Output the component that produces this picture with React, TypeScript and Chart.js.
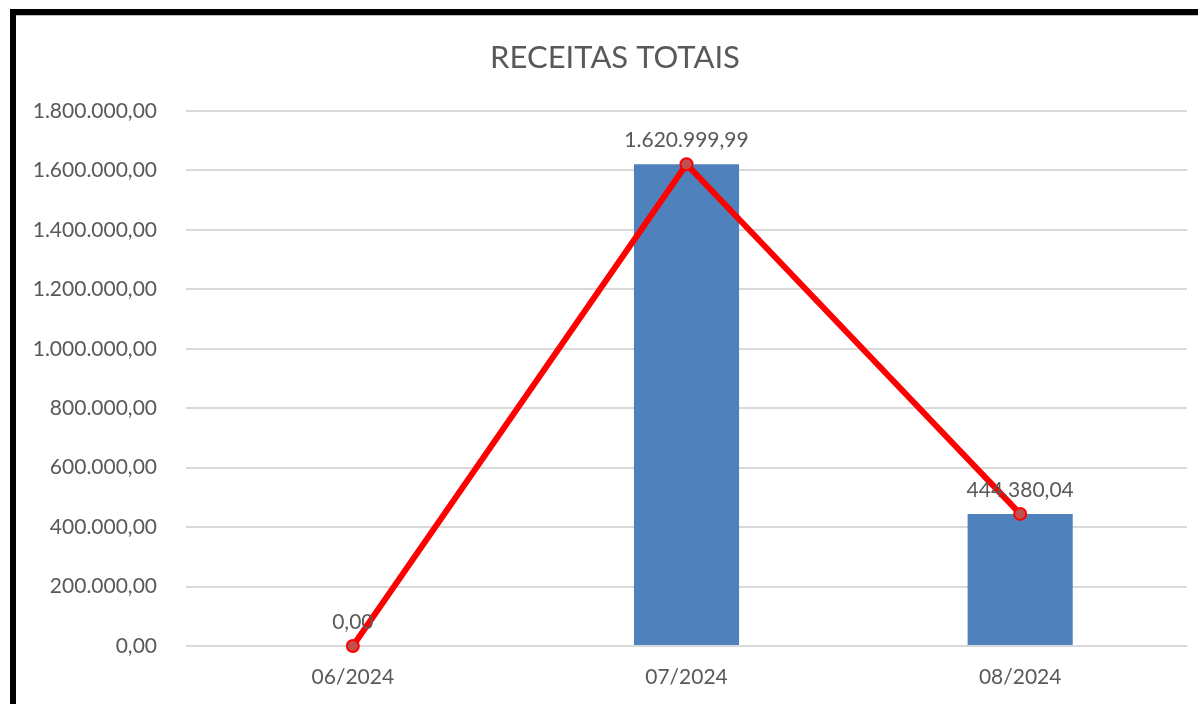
import React, { useEffect, useRef } from "react";
import { Chart, registerables } from "chart.js";

Chart.register(...registerables);

const titleText = "RECEITAS TOTAIS";
const categories = ["06/2024", "07/2024", "08/2024"];
const barValues = [0, 1620999.99, 444380.04];
const lineValues = [0, 1620999.99, 444380.04];
const yMin = 0;
const yMax = 1800000;
const yStep = 200000;

const FONT = "Lato";
const TEXT = "#595959";
const LABEL_SIZE = 21;
const TITLE_SIZE = 31;

function fmt(v: number): string {
  const fixed = Math.abs(v).toFixed(2);
  const [intPart, dec] = fixed.split(".");
  const intS = intPart.replace(/\B(?=(\d{3})+(?!\d))/g, ".");
  return (v < 0 ? "-" : "") + intS + "," + dec;
}

const dataLabelPlugin = {
  id: "dataLabels",
  afterDatasetsDraw(chart: any) {
    const ctx = chart.ctx;
    const meta = chart.getDatasetMeta(1);
    const ds = chart.data.datasets[1];
    ctx.save();
    ctx.font = `${LABEL_SIZE}px ${FONT}`;
    ctx.fillStyle = TEXT;
    ctx.textAlign = "center";
    ctx.textBaseline = "alphabetic";
    meta.data.forEach((pt: any, i: number) => {
      ctx.fillText(fmt(ds.data[i] as number), pt.x, pt.y - 17);
    });
    ctx.restore();
  },
};

// Title centred on the full (cropped) chart frame rather than the canvas
const titlePlugin = {
  id: "frameTitle",
  afterDraw(chart: any) {
    const ctx = chart.ctx;
    ctx.save();
    ctx.font = `${TITLE_SIZE}px ${FONT}`;
    ctx.fillStyle = TEXT;
    ctx.textAlign = "center";
    ctx.textBaseline = "middle";
    ctx.fillText(titleText, 599, 41.6);
    ctx.restore();
  },
};

export default function App() {
  const ref = useRef<HTMLCanvasElement | null>(null);

  useEffect(() => {
    if (!ref.current) return;
    const chart = new Chart(ref.current, {
      type: "bar",
      data: {
        labels: categories,
        datasets: [
          {
            type: "bar",
            label: "Receitas",
            data: barValues,
            backgroundColor: "#4f81bd",
            borderWidth: 0,
            categoryPercentage: 1,
            barPercentage: 0.315,
            order: 2,
          },
          {
            type: "line",
            label: "Receitas (linha)",
            data: lineValues,
            borderColor: "#ff0000",
            borderWidth: 6,
            pointRadius: 6,
            pointBackgroundColor: "#c0504d",
            pointBorderColor: "#ff0000",
            pointBorderWidth: 2,
            tension: 0,
            clip: false,
            order: 1,
          } as any,
        ],
      },
      options: {
        animation: false,
        responsive: false,
        devicePixelRatio: 1,
        layout: { padding: { left: 0, right: 11, top: 95, bottom: 0 } },
        plugins: {
          legend: { display: false },
          tooltip: { enabled: false },
          title: { display: false },
        },
        scales: {
          x: {
            offset: true,
            grid: { display: false },
            border: { display: false },
            ticks: {
              color: TEXT,
              font: { family: FONT, size: LABEL_SIZE },
              padding: 11,
            },
            afterFit(scale: any) {
              scale.height = 58;
            },
          },
          y: {
            min: yMin,
            max: yMax,
            grid: { color: "#d9d9d9", lineWidth: 2, drawTicks: false },
            border: { display: false },
            ticks: {
              stepSize: yStep,
              color: TEXT,
              font: { family: FONT, size: LABEL_SIZE },
              padding: 29,
              callback: (v: any) => fmt(Number(v)),
            },
            afterFit(scale: any) {
              scale.width = 170;
            },
          },
        },
      },
      plugins: [dataLabelPlugin, titlePlugin],
    });
    return () => chart.destroy();
  }, []);

  return (
    <div
      style={{
        position: "fixed",
        left: 0,
        top: 0,
        width: 1198,
        height: 704,
        overflow: "hidden",
        background: "#ffffff",
      }}
    >
      <div
        style={{
          position: "absolute",
          left: 10,
          top: 9,
          width: 1300,
          height: 800,
          border: "6px solid #000000",
          boxSizing: "border-box",
        }}
      />
      <div
        style={{
          position: "absolute",
          left: 16,
          top: 15,
          width: 1182,
          height: 1,
          background: "#bfbfbf",
        }}
      />
      <canvas
        ref={ref}
        width={1182}
        height={688}
        style={{ position: "absolute", left: 16, top: 16, width: 1182, height: 688 }}
      />
    </div>
  );
}
